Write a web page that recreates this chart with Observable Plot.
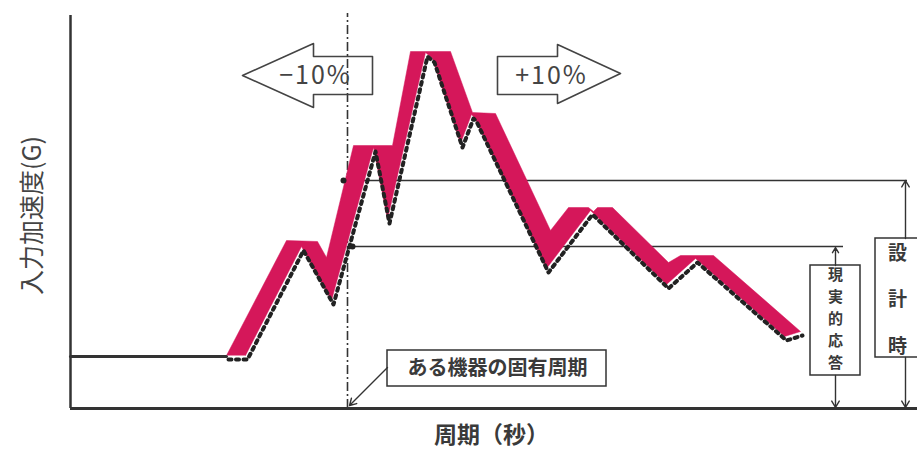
<!DOCTYPE html>
<html><head><meta charset="utf-8">
<script src="https://cdn.jsdelivr.net/npm/d3@7"></script>
<script src="https://cdn.jsdelivr.net/npm/@observablehq/plot@0.6"></script>
<style>body{margin:0;background:#fff;} #chart svg{display:block}</style>
</head><body><div id="chart"></div>
<script>
// Flat (short-period) part of the response spectrum: [period, acceleration]
const flatPart = [[0, 0.52], [1.56, 0.52]];
// Upper edge of the ±10% broadened spectrum band
const bandTop = [
  [1.56,0.53],[2.16,1.68],[2.47,1.67],[2.56,1.51],[2.83,2.63],[3.22,2.63],
  [3.40,3.57],[3.80,3.57],[4.02,2.96],[4.25,2.95],[4.80,1.78],[4.98,2.01],
  [5.18,2.01],[5.23,1.97],[5.27,2.01],[5.42,2.01],[5.98,1.46],[6.10,1.53],
  [6.43,1.53],[7.30,0.77]
];
// Lower edge of the band
const bandBottom = [
  [1.75,0.53],[2.31,1.62],[2.61,1.08],[3.03,2.61],[3.17,1.89],[3.55,3.56],
  [3.62,3.50],[3.90,2.65],[4.01,2.94],[4.04,2.91],[4.76,1.40],[5.20,1.98],
  [5.96,1.24],[6.25,1.50],[7.14,0.72]
];
// Natural period of an equipment and the two response levels
const naturalPeriod = 2.77;
const levels = [
  {name: "設計時", y: 2.28, x1: 2.73, x2: 8.37},
  {name: "現実的応答", y: 1.62, x1: 2.82, x2: 7.73}
];
const markers = [[2.73, 2.28], [2.82, 1.62]];

const pink = "#d5175a", ink = "#333", font = "'Noto Sans CJK JP', sans-serif";

const P = a => a.map(([x, y]) => ({x, y}));
const polygon = P([...bandTop, ...bandBottom.slice().reverse()]);
const dotted = P([bandTop[0], ...bandBottom, bandTop[bandTop.length - 1]]);

const shiftArrows = [
  {label: "−10%", tx: 2.45, ty: 3.33,
   pts: [[1.72,3.33],[2.43,3.65],[2.43,3.52],[3.02,3.52],[3.02,3.14],[2.43,3.14],[2.43,3.01],[1.72,3.33]]},
  {label: "+10%", tx: 4.81, ty: 3.33,
   pts: [[4.27,3.52],[4.87,3.52],[4.87,3.64],[5.50,3.35],[4.87,3.05],[4.87,3.14],[4.27,3.14],[4.27,3.52]]}
];
const boxes = [
  {x1: 3.17, x2: 5.36, y1: 0.22, y2: 0.58},
  {x1: 7.40, x2: 7.90, y1: 0.33, y2: 1.43},
  {x1: 8.05, x2: 8.49, y1: 0.51, y2: 1.70}
];
const arrows = [
  {x1: 3.17, y1: 0.41, x2: 2.79, y2: 0.03},
  {x1: 7.65, y1: 1.43, x2: 7.65, y2: 1.61},
  {x1: 7.65, y1: 0.33, x2: 7.65, y2: 0.01},
  {x1: 8.35, y1: 1.70, x2: 8.35, y2: 2.28},
  {x1: 8.35, y1: 0.51, x2: 8.35, y2: 0.01}
];
// vertical captions, one character per entry
const realChars = ["現", "実", "的", "応", "答"];
const realY = [1.33, 1.11, 0.89, 0.67, 0.45];
const designChars = ["設", "計", "時"];
const designY = [1.55, 1.09, 0.62];

const chart = Plot.plot({
  width: 917, height: 451,
  marginLeft: 70, marginRight: 0, marginTop: 17, marginBottom: 43,
  x: {domain: [0, 8.47], axis: null},
  y: {domain: [0, 3.91], axis: null},
  style: {background: "white", fontFamily: font, overflow: "visible"},
  marks: [
    Plot.ruleY(levels, {y: "y", x1: "x1", x2: "x2", stroke: ink, strokeWidth: 1.3}),
    Plot.ruleX([naturalPeriod], {y1: 0, y2: 3.95, stroke: ink, strokeWidth: 1.6, strokeDasharray: "9,3,2,3"}),
    Plot.line(polygon, {x: "x", y: "y", fill: pink, stroke: pink, strokeWidth: 0.5}),
    Plot.line(dotted, {x: "x", y: "y", stroke: "#222", strokeWidth: 4, strokeDasharray: "3,4.5", dx: 2, dy: 4}),
    Plot.line(P(flatPart), {x: "x", y: "y", stroke: ink, strokeWidth: 3}),
    Plot.dot(P(markers), {x: "x", y: "y", r: 3, fill: "#222"}),
    Plot.ruleX([0], {y1: 0, y2: 3.93, stroke: ink, strokeWidth: 2.5}),
    Plot.ruleY([0], {x1: 0, x2: 8.47, stroke: ink, strokeWidth: 2.8}),
    ...shiftArrows.map(a => Plot.line(P(a.pts), {x: "x", y: "y", fill: "white", fillOpacity: 0, stroke: "#444", strokeWidth: 1.6})),
    Plot.text(shiftArrows, {x: "tx", y: "ty", text: "label", fontSize: 25, fill: "#444", fontFamily: font}),
    Plot.rect(boxes, {x1: "x1", x2: "x2", y1: "y1", y2: "y2", fill: "white", stroke: ink, strokeWidth: 1.5}),
    Plot.arrow(arrows, {x1: "x1", y1: "y1", x2: "x2", y2: "y2", stroke: ink, strokeWidth: 1.4, headLength: 8}),
    Plot.text(["ある機器の固有周期"], {x: 4.27, y: 0.40, fontSize: 20, fontWeight: "bold", fill: "#3a3a3a"}),
    Plot.text(realChars, {x: 7.65, y: (d, i) => realY[i], fontSize: 15, fontWeight: "bold", fill: "#3a3a3a"}),
    Plot.text(designChars, {x: 8.27, y: (d, i) => designY[i], fontSize: 19, fontWeight: "bold", fill: "#3a3a3a"}),
    Plot.text(["入力加速度(G)"], {x: -0.38, y: 1.93, rotate: -90, fontSize: 25, fill: "#444"}),
    Plot.text(["周期（秒）"], {x: 4.21, y: -0.27, fontSize: 23, fontWeight: "bold", fill: "#3a3a3a"})
  ]
});
d3.select(chart).selectAll("text").filter(function() { return /%/.test(this.textContent); }).attr("letter-spacing", 2);
document.getElementById("chart").appendChild(chart);
</script>
</body></html>
